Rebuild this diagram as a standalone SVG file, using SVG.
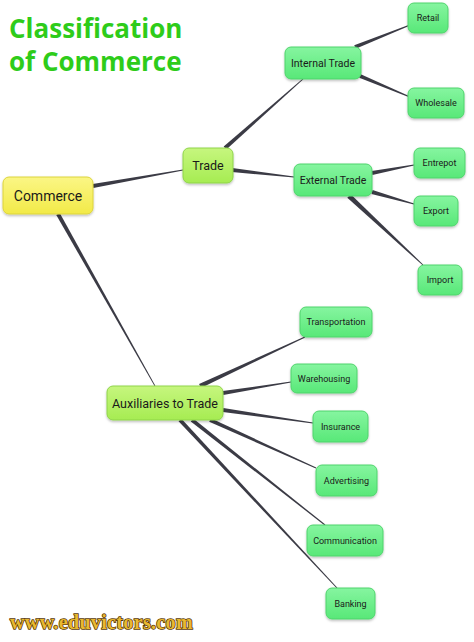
<svg xmlns="http://www.w3.org/2000/svg" width="474" height="642" viewBox="0 0 474 642">
<defs>
<linearGradient id="gGreen" x1="0" y1="0" x2="0" y2="1"><stop offset="0" stop-color="#86f5a0"/><stop offset="1" stop-color="#58e878"/></linearGradient>
<linearGradient id="gLime" x1="0" y1="0" x2="0" y2="1"><stop offset="0" stop-color="#c6f67e"/><stop offset="1" stop-color="#a6ec52"/></linearGradient>
<linearGradient id="gYellow" x1="0" y1="0" x2="0" y2="1"><stop offset="0" stop-color="#fbf685"/><stop offset="1" stop-color="#f2ea48"/></linearGradient>
<filter id="sh" x="-20%" y="-20%" width="140%" height="150%"><feDropShadow dx="0" dy="1.5" stdDeviation="1.2" flood-color="#000" flood-opacity="0.25"/></filter>
</defs>
<style>
.g rect{fill:url(#gGreen);stroke:#4fd46c;stroke-width:1}
.l rect{fill:url(#gLime);stroke:#8fd44a;stroke-width:1}
.y rect{fill:url(#gYellow);stroke:#dcd43c;stroke-width:1}
rect{filter:url(#sh)}
text{font-family:Roboto,"Liberation Sans",sans-serif;fill:#1a1a1a;text-anchor:middle;dominant-baseline:central}
.s{font-size:9px}
.m{font-size:10.5px}
.b{font-size:12.5px}
.xl{font-size:14px}
#connectors polygon{fill:#3b3b45}
.title{font-family:"Open Sans","Liberation Sans",sans-serif;font-weight:bold;font-size:26px;fill:#2ecc1a;text-anchor:start;dominant-baseline:auto}
.web{font-family:"Liberation Serif",serif;font-weight:bold;font-size:20px;fill:#e8b830;stroke:#5a3a08;stroke-width:1.6;paint-order:stroke;text-anchor:start;dominant-baseline:auto;letter-spacing:0.3px}
</style>
<rect width="474" height="642" fill="#ffffff" style="filter:none"/>
<text class="title" x="9" y="38">Classification</text>
<text class="title" x="9" y="71">of Commerce</text>
<g id="connectors">
<polygon points="93.35,187.97 183.09,170.49 182.91,169.51 92.65,184.03"/>
<polygon points="226.33,149.5 303.33,79.37 302.67,78.63 223.67,146.5"/>
<polygon points="231.78,171.99 293.94,177.5 294.06,176.5 232.22,168.01"/>
<polygon points="355.74,48.86 410.19,25.46 409.81,24.54 354.26,45.14"/>
<polygon points="359.23,77.84 409.81,97.46 410.19,96.54 360.77,74.16"/>
<polygon points="372.37,174.96 414.09,165.49 413.91,164.51 371.63,171.04"/>
<polygon points="371.45,193.92 413.86,204.48 414.14,203.52 372.55,190.08"/>
<polygon points="347.3,197.83 422.66,265.37 423.34,264.63 350.7,194.17"/>
<polygon points="56.26,214.98 154.65,386.2 155.35,385.8 59.74,213.02"/>
<polygon points="200.93,387.99 305.21,337.45 304.79,336.55 199.07,384.01"/>
<polygon points="223.32,394.97 291.08,382.49 290.92,381.51 222.68,391.03"/>
<polygon points="222.71,411.98 312.93,423.5 313.07,422.5 223.29,408.02"/>
<polygon points="209.19,421.83 315.8,468.46 316.2,467.54 210.81,418.17"/>
<polygon points="190.76,421.57 324.69,525.39 325.31,524.61 193.24,418.43"/>
<polygon points="178.54,421.37 336.63,588.34 337.37,587.66 181.46,418.63"/>
</g>
<g id="commerce" class="y"><rect x="3" y="177" width="90" height="37" rx="6"/><text class="xl" x="48" y="195.5">Commerce</text></g>
<g id="trade" class="l"><rect x="183" y="148" width="50" height="35" rx="6"/><text class="b" x="208" y="165.5">Trade</text></g>
<g id="internal-trade" class="g"><rect x="285" y="47" width="76" height="32" rx="6"/><text class="m" x="323" y="63">Internal Trade</text></g>
<g id="external-trade" class="g"><rect x="294" y="164" width="78" height="32" rx="6"/><text class="m" x="333" y="180">External Trade</text></g>
<g id="retail" class="g"><rect x="408" y="3" width="40" height="30" rx="6"/><text class="s" x="428" y="18">Retail</text></g>
<g id="wholesale" class="g"><rect x="408" y="88" width="56" height="30" rx="6"/><text class="s" x="436" y="103">Wholesale</text></g>
<g id="entrepot" class="g"><rect x="414" y="148" width="51" height="30" rx="6"/><text class="s" x="439.5" y="163">Entrepot</text></g>
<g id="export" class="g"><rect x="414" y="196" width="44" height="30" rx="6"/><text class="s" x="436" y="211">Export</text></g>
<g id="import" class="g"><rect x="418" y="265" width="44" height="30" rx="6"/><text class="s" x="440" y="280">Import</text></g>
<g id="auxiliaries" class="l"><rect x="107" y="386" width="116" height="34" rx="6"/><text class="b" x="165" y="403">Auxiliaries to Trade</text></g>
<g id="transportation" class="g"><rect x="300" y="307" width="72" height="30" rx="6"/><text class="s" x="336" y="322">Transportation</text></g>
<g id="warehousing" class="g"><rect x="291" y="364" width="66" height="29" rx="6"/><text class="s" x="324" y="378.5">Warehousing</text></g>
<g id="insurance" class="g"><rect x="313" y="411" width="55" height="31" rx="6"/><text class="s" x="340.5" y="426.5">Insurance</text></g>
<g id="advertising" class="g"><rect x="316" y="465" width="61" height="31" rx="6"/><text class="s" x="346.5" y="480.5">Advertising</text></g>
<g id="communication" class="g"><rect x="307" y="525" width="76" height="31" rx="6"/><text class="s" x="345" y="540.5">Communication</text></g>
<g id="banking" class="g"><rect x="326" y="588" width="49" height="31" rx="6"/><text class="s" x="350.5" y="603.5">Banking</text></g>
<text class="web" x="10" y="629" textLength="183" lengthAdjust="spacingAndGlyphs">www.eduvictors.com</text>
</svg>
